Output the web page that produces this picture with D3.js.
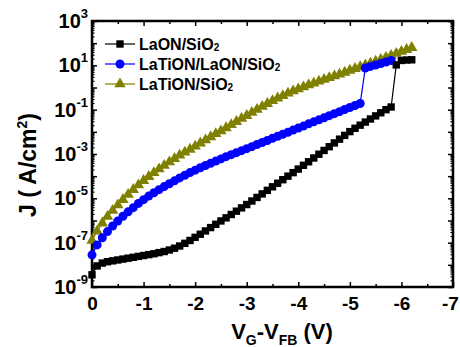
<!DOCTYPE html>
<html lang="en">
<head>
<meta charset="UTF-8">
<title>J-V</title>
<script src="https://cdn.jsdelivr.net/npm/d3@7"></script>
<style>
  body { margin: 0; padding: 0; background: #fff; overflow: hidden; }
  svg text { font-family: "Liberation Sans", Arial, sans-serif; font-weight: bold; fill: #000; }
</style>
</head>
<body>
<div id="chart"></div>
<script>
// gate bias V_G - V_FB (V), sampled every 0.1 V
const vg = [0, -0.1, -0.2, -0.3, -0.4, -0.5, -0.6, -0.7, -0.8, -0.9,
  -1.0, -1.1, -1.2, -1.3, -1.4, -1.5, -1.6, -1.7, -1.8, -1.9,
  -2.0, -2.1, -2.2, -2.3, -2.4, -2.5, -2.6, -2.7, -2.8, -2.9,
  -3.0, -3.1, -3.2, -3.3, -3.4, -3.5, -3.6, -3.7, -3.8, -3.9,
  -4.0, -4.1, -4.2, -4.3, -4.4, -4.5, -4.6, -4.7, -4.8, -4.9,
  -5.0, -5.1, -5.2, -5.3, -5.4, -5.5, -5.6, -5.7, -5.8, -5.9,
  -6.0, -6.1, -6.2];

// log10 of J (A/cm^2)
const laonLogJ = [-8.45, -8.05, -7.92, -7.86, -7.82, -7.78, -7.74, -7.70, -7.66, -7.62,
  -7.58, -7.54, -7.50, -7.45, -7.40, -7.33, -7.25, -7.15, -7.03, -6.90,
  -6.76, -6.62, -6.47, -6.32, -6.17, -6.02, -5.88, -5.73, -5.58, -5.43,
  -5.28, -5.12, -4.96, -4.80, -4.64, -4.48, -4.32, -4.16, -4.00, -3.84,
  -3.68, -3.51, -3.35, -3.18, -3.01, -2.84, -2.67, -2.50, -2.33, -2.16,
  -1.99, -1.84, -1.70, -1.56, -1.42, -1.28, -1.14, -1.00, -0.88, 1.02,
  1.22, 1.24, 1.25];

const latilaonLogJ = [-7.55, -7.10, -6.78, -6.50, -6.25, -6.02, -5.81, -5.61, -5.42, -5.23,
  -5.06, -4.90, -4.75, -4.61, -4.47, -4.34, -4.21, -4.08, -3.96, -3.84,
  -3.73, -3.62, -3.52, -3.42, -3.32, -3.22, -3.12, -3.03, -2.94, -2.85,
  -2.76, -2.67, -2.57, -2.48, -2.39, -2.29, -2.20, -2.11, -2.02, -1.92,
  -1.83, -1.74, -1.64, -1.55, -1.46, -1.37, -1.27, -1.18, -1.09, -0.99,
  -0.90, -0.81, -0.72, 0.88, 0.95, 1.01, 1.08, 1.15, 1.22];

const latiLogJ = [-6.90, -6.48, -6.12, -5.82, -5.55, -5.30, -5.06, -4.83, -4.61, -4.40,
  -4.20, -4.02, -3.85, -3.68, -3.52, -3.36, -3.21, -3.06, -2.92, -2.79,
  -2.65, -2.51, -2.37, -2.23, -2.09, -1.96, -1.82, -1.68, -1.54, -1.40,
  -1.27, -1.13, -0.99, -0.86, -0.73, -0.60, -0.48, -0.37, -0.26, -0.16,
  -0.07, 0.02, 0.11, 0.19, 0.28, 0.36, 0.44, 0.52, 0.60, 0.68,
  0.77, 0.85, 0.93, 1.01, 1.09, 1.18, 1.26, 1.35, 1.44, 1.53,
  1.62, 1.71, 1.80];

const seriesNames = ["LaON/SiO2", "LaTiON/LaON/SiO2", "LaTiON/SiO2"];
const xTicks = [0, -1, -2, -3, -4, -5, -6, -7];
const xMinorTicks = [-0.5, -1.5, -2.5, -3.5, -4.5, -5.5, -6.5];
const yTicks = [1e3, 1e2, 1e1, 1e0, 1e-1, 1e-2, 1e-3, 1e-4, 1e-5, 1e-6, 1e-7, 1e-8, 1e-9];
const yLabelExps = [3, 1, -1, -3, -5, -7, -9];

const W = 460, H = 347;
const plotL = 92, plotR = 453, plotT = 21, plotB = 287;

const svg = d3.select("#chart").append("svg")
  .attr("width", W).attr("height", H);

const x = d3.scaleLinear().domain([0, -7]).range([plotL, plotR]);
const y = d3.scaleLog().domain([1e-9, 1e3]).range([plotB, plotT]);

// minor log ticks 2..9 of each decade
const yMinor = [];
yTicks.slice(1).forEach(t => { for (let k = 2; k <= 9; k++) yMinor.push(t * k); });

function styleAxis(g) {
  g.select(".domain").remove();
  g.selectAll(".tick line").attr("stroke", "#000").attr("stroke-width", 1.5);
}

// x axes (bottom + top), ticks pointing in
svg.append("g").attr("transform", `translate(0,${plotB})`)
  .call(d3.axisBottom(x).tickValues(xTicks).tickSize(-5).tickPadding(10).tickFormat(d => String(d)))
  .call(styleAxis)
  .call(g => g.selectAll("text").attr("font-size", 19)
    .attr("dx", d => d === -7 ? -3 : 0));
svg.append("g").attr("transform", `translate(0,${plotB})`)
  .call(d3.axisBottom(x).tickValues(xMinorTicks).tickSize(-3).tickFormat(""))
  .call(styleAxis);
svg.append("g").attr("transform", `translate(0,${plotT})`)
  .call(d3.axisTop(x).tickValues(xTicks).tickSize(-5).tickFormat(""))
  .call(styleAxis);
svg.append("g").attr("transform", `translate(0,${plotT})`)
  .call(d3.axisTop(x).tickValues(xMinorTicks).tickSize(-3).tickFormat(""))
  .call(styleAxis);

// y axes (left + right)
svg.append("g").attr("transform", `translate(${plotL},0)`)
  .call(d3.axisLeft(y).tickValues(yTicks).tickSize(-5).tickFormat(""))
  .call(styleAxis);
svg.append("g").attr("transform", `translate(${plotL},0)`)
  .call(d3.axisLeft(y).tickValues(yMinor).tickSize(-2.5).tickFormat(""))
  .call(styleAxis)
  .call(g => g.selectAll(".tick line").attr("stroke-width", 1.2));
svg.append("g").attr("transform", `translate(${plotR},0)`)
  .call(d3.axisRight(y).tickValues(yTicks).tickSize(-5).tickFormat(""))
  .call(styleAxis);
svg.append("g").attr("transform", `translate(${plotR},0)`)
  .call(d3.axisRight(y).tickValues(yMinor).tickSize(-2.5).tickFormat(""))
  .call(styleAxis)
  .call(g => g.selectAll(".tick line").attr("stroke-width", 1.2));

// y tick labels as 10^n
const yLab = svg.append("g");
yLabelExps.forEach(e => {
  const t = yLab.append("text")
    .attr("x", 88).attr("y", y(Math.pow(10, e)) + 7)
    .attr("text-anchor", "end").attr("font-size", 20);
  t.append("tspan").text("10");
  t.append("tspan").attr("font-size", 13).attr("dy", -10).text(e);
});

// frame
svg.append("rect")
  .attr("x", plotL).attr("y", plotT)
  .attr("width", plotR - plotL).attr("height", plotB - plotT)
  .attr("fill", "none").attr("stroke", "#000").attr("stroke-width", 2.5);

// series
const series = [
  { name: seriesNames[0], logJ: laonLogJ, color: "#000000", shape: "square" },
  { name: seriesNames[1], logJ: latilaonLogJ, color: "#0000ff", shape: "circle" },
  { name: seriesNames[2], logJ: latiLogJ, color: "#808000", shape: "triangle" }
];

const line = d3.line().x(d => x(d.v)).y(d => y(d.j));

function drawMarker(g, shape, color) {
  if (shape === "square") {
    g.append("rect").attr("x", -3.7).attr("y", -3.7).attr("width", 7.4).attr("height", 7.4).attr("fill", color);
  } else if (shape === "circle") {
    g.append("circle").attr("r", 4.5).attr("fill", color);
  } else {
    g.append("path").attr("d", d3.symbol(d3.symbolTriangle, 56)()).attr("fill", color);
  }
}

// draw in reverse so black ends on top like the original
series.slice().reverse().forEach(s => {
  const pts = s.logJ.map((lj, i) => ({ v: vg[i], j: Math.pow(10, lj) }));
  const g = svg.append("g");
  g.append("path").datum(pts).attr("d", line)
    .attr("fill", "none").attr("stroke", s.color).attr("stroke-width", 1.2);
  g.selectAll("g.pt").data(pts).enter().append("g")
    .attr("class", "pt")
    .attr("transform", d => `translate(${x(d.v)},${y(d.j)})`)
    .each(function () { drawMarker(d3.select(this), s.shape, s.color); });
});

// legend
const legend = svg.append("g");
series.forEach((s, i) => {
  const ly = 44 + i * 20;
  legend.append("line").attr("x1", 105).attr("x2", 135).attr("y1", ly).attr("y2", ly)
    .attr("stroke", s.color).attr("stroke-width", 1.2);
  const mg = legend.append("g").attr("transform", `translate(120,${ly})`);
  drawMarker(mg, s.shape, s.color);
  const t = legend.append("text").attr("x", 139).attr("y", ly + 5.5).attr("font-size", 16);
  t.append("tspan").text(s.name.slice(0, -1));
  t.append("tspan").attr("font-size", 10).attr("dy", 1).text("2");
});

// axis titles
const xt = svg.append("text")
  .attr("x", 282).attr("y", 339).attr("text-anchor", "middle").attr("font-size", 22);
xt.append("tspan").text("V");
xt.append("tspan").attr("font-size", 14).attr("dy", 6).text("G");
xt.append("tspan").attr("dy", -6).text("-V");
xt.append("tspan").attr("font-size", 14).attr("dy", 6).text("FB");
xt.append("tspan").attr("dy", -6).text(" (V)");

const yt = svg.append("text")
  .attr("transform", "translate(36,165) rotate(-90)")
  .attr("text-anchor", "middle").attr("font-size", 23);
yt.append("tspan").text("J ( A/cm");
yt.append("tspan").attr("font-size", 14).attr("dy", -9).text("2");
yt.append("tspan").attr("dy", 9).text(")");
</script>
</body>
</html>
